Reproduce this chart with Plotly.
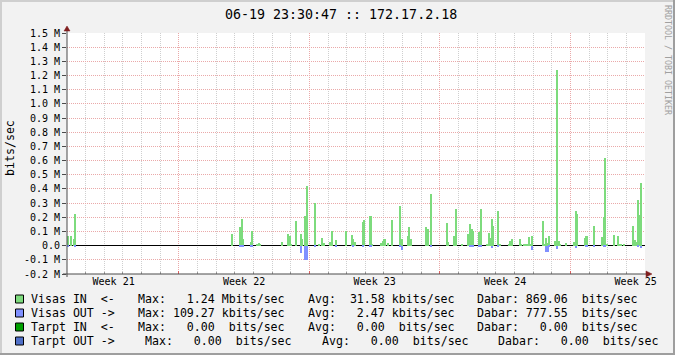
import plotly.graph_objects as go

# ---------------- data ----------------
slot_hours = 2  # one RRD row = 2 hours, start of graph = slot 0
visas_in_slot = [0, 2, 4, 5,
                 106, 111, 112, 113, 118, 119, 122, 123, 124, 138, 142, 143, 144, 147,
                 150, 151, 153, 154, 159, 162, 164, 165, 169, 170, 173, 179, 183, 184, 185,
                 190, 191, 195, 196, 202, 203, 204, 206, 209, 214, 215, 219, 220, 221,
                 231, 232, 234, 244, 245, 249, 250, 254, 258, 259, 260, 261, 265, 266,
                 270, 271, 272, 273, 274, 277, 278, 284, 285, 286, 291, 292, 294, 295, 296,
                 297, 298, 299, 306, 307, 308, 309, 310, 314, 315, 316, 317, 321, 326, 327,
                 328, 333, 334, 339, 344, 345, 346, 347, 352, 354, 355, 356, 358, 364, 365,
                 366, 367, 368, 369]
visas_in_mbps = [0.068, 0.068, 0.047, 0.22,
                 0.08, 0.13, 0.185, 0.045, 0.023, 0.10, 0.012, 0.016, 0.01, 0.023, 0.08, 0.066, 0.01, 0.171,
                 0.08, 0.045, 0.207, 0.418, 0.30, 0.01, 0.052, 0.016, 0.023, 0.10, 0.038, 0.10, 0.073, 0.045, 0.023,
                 0.164, 0.178, 0.207, 0.01, 0.016, 0.03, 0.045, 0.016, 0.178, 0.277, 0.045, 0.066, 0.13, 0.045,
                 0.13, 0.115, 0.361, 0.157, 0.023, 0.066, 0.256, 0.01, 0.08, 0.15, 0.115, 0.10, 0.094, 0.256,
                 0.01, 0.087, 0.052, 0.185, 0.136, 0.242, 0.01, 0.01, 0.03, 0.045, 0.045, 0.01, 0.01, 0.01, 0.01,
                 0.059, 0.01, 0.066, 0.171, 0.01, 0.052, 0.016, 0.066, 0.03, 1.24, 0.03, 0.01, 0.016, 0.023, 0.242,
                 0.22, 0.052, 0.066, 0.136, 0.059, 0.20, 0.615, 0.01, 0.073, 0.066, 0.01, 0.01, 0.01, 0.136, 0.038,
                 0.023, 0.32, 0.214, 0.44]
visas_out_slot = [0, 5, 111, 112, 113, 118, 119, 150, 153, 154, 159, 173, 184, 190, 195,
                  214, 215, 234, 259, 260, 261, 265, 266, 273, 277, 299, 308, 309, 310,
                  315, 327, 334, 339, 345, 346, 367, 369]
visas_out_mbps = [-0.01, -0.01, -0.01, -0.01, -0.01, -0.01, -0.01, -0.052, -0.103, -0.103, -0.01, -0.01,
                  -0.01, -0.01, -0.01, -0.01, -0.033, -0.01, -0.01, -0.01, -0.01, -0.01, -0.01, -0.019,
                  -0.01, -0.033, -0.047, -0.047, -0.01, -0.026, -0.019, -0.01, -0.01, -0.01, -0.01,
                  -0.01, -0.019]

week_label_days = [2.5, 9.5, 16.5, 23.5, 30.5]
week_labels = ["Week 21", "Week 22", "Week 23", "Week 24", "Week 25"]
week_start_days = [6, 13, 20, 27]
total_days = 31

y_tick_vals = [1.5, 1.4, 1.3, 1.2, 1.1, 1.0, 0.9, 0.8, 0.7, 0.6, 0.5, 0.4, 0.3, 0.2, 0.1, 0.0, -0.1, -0.2]
y_tick_text = ["1.5 M", "1.4 M", "1.3 M", "1.2 M", "1.1 M", "1.0 M", "0.9 M", "0.8 M", "0.7 M",
               "0.6 M", "0.5 M", "0.4 M", "0.3 M", "0.2 M", "0.1 M", "0.0", "-0.1 M", "-0.2 M"]

title_text = "06-19 23:30:47 :: 172.17.2.18"
legend_names = ["Visas IN  <-", "Visas OUT ->", "Tarpt IN  <-", "Tarpt OUT ->"]
legend_max = ["Max:   1.24 Mbits/sec", "Max: 109.27 kbits/sec", "Max:   0.00  bits/sec", "Max:   0.00  bits/sec"]
legend_avg = ["Avg:  31.58 kbits/sec", "Avg:   2.47 kbits/sec", "Avg:   0.00  bits/sec", "Avg:   0.00  bits/sec"]
legend_cur = ["Dabar: 869.06  bits/sec", "Dabar: 777.55  bits/sec", "Dabar:   0.00  bits/sec", "Dabar:   0.00  bits/sec"]
legend_colors = ["#7ddb7d", "#8090ff", "#00a000", "#5070c8"]

# ---------------- layout geometry ----------------
W, H = 675, 355
L, R, T, B = 67, 30, 33, 81
PW, PH = W - L - R, H - T - B


def px(x):
    return (x - L) / PW


def py(y):
    return (H - B - y) / PH


MONO = "DejaVu Sans Mono"
BACK = "#f2f2f2"
GRID = "#cfcfcf"
MGRID = "#eaa9a9"
AXIS = "#4a4a4a"
ARROW = "#801f1f"

day = slot_hours / 24.0
fig = go.Figure()
fig.add_trace(go.Bar(x=[(s + 0.5) * day for s in visas_in_slot], y=visas_in_mbps, width=day,
                     marker=dict(color=legend_colors[0], line=dict(width=0)), showlegend=False))
fig.add_trace(go.Bar(x=[(s + 0.5) * day for s in visas_out_slot], y=visas_out_mbps, width=day,
                     marker=dict(color=legend_colors[1], line=dict(width=0)), showlegend=False))
fig.add_trace(go.Scatter(x=[None], y=[None], xaxis="x2", showlegend=False, hoverinfo="skip"))

minor_days = [d for d in range(1, total_days) if d not in week_start_days]

fig.update_layout(
    width=W, height=H,
    margin=dict(l=L, r=R, t=T, b=B, pad=0),
    paper_bgcolor=BACK, plot_bgcolor="#ffffff",
    barmode="overlay", bargap=0,
    font=dict(family=MONO, size=10, color="#000000"),
    xaxis=dict(range=[0, total_days], tickmode="array", tickvals=week_start_days, showticklabels=False,
               showgrid=True, gridcolor=MGRID, griddash="1px,1px", gridwidth=1,
               ticks="inside", ticklen=3, tickcolor="#e06060",
               minor=dict(tickmode="array", tickvals=minor_days, showgrid=True, gridcolor=GRID,
                          griddash="1px,1px", gridwidth=1, ticks="inside", ticklen=2, tickcolor="#999999"),
               zeroline=False, showline=False, fixedrange=True),
    xaxis2=dict(range=[0, total_days], overlaying="x", side="bottom", anchor="y",
                tickmode="array", tickvals=week_label_days, ticktext=week_labels,
                ticks="", showgrid=False, zeroline=False, showline=False,
                tickfont=dict(family=MONO, size=10, color="#000000")),
    yaxis=dict(range=[-0.2, 1.5], tickmode="array", tickvals=y_tick_vals, ticktext=y_tick_text,
               showgrid=True, gridcolor=MGRID, griddash="1px,1px", gridwidth=1,
               ticks="outside", ticklen=4, tickcolor=AXIS,
               zeroline=True, zerolinecolor="#000000", zerolinewidth=1,
               showline=False, tickfont=dict(family=MONO, size=10, color="#000000")),
)

shapes = []
# 3D frame
shapes.append(dict(type="rect", xref="paper", yref="paper", x0=px(0), x1=px(W), y0=py(0), y1=py(2),
                   fillcolor="#cfcfcf", line=dict(width=0), layer="above"))
shapes.append(dict(type="rect", xref="paper", yref="paper", x0=px(0), x1=px(2), y0=py(0), y1=py(H),
                   fillcolor="#cfcfcf", line=dict(width=0), layer="above"))
shapes.append(dict(type="rect", xref="paper", yref="paper", x0=px(0), x1=px(W), y0=py(H - 2), y1=py(H),
                   fillcolor="#9e9e9e", line=dict(width=0), layer="above"))
shapes.append(dict(type="rect", xref="paper", yref="paper", x0=px(W - 2), x1=px(W), y0=py(0), y1=py(H),
                   fillcolor="#9e9e9e", line=dict(width=0), layer="above"))
# axes
shapes.append(dict(type="line", xref="paper", yref="paper", x0=px(67), x1=px(67), y0=py(277), y1=py(29),
                   line=dict(color=AXIS, width=1), layer="above"))
shapes.append(dict(type="line", xref="paper", yref="paper", x0=px(63), x1=px(648), y0=py(274), y1=py(274),
                   line=dict(color=AXIS, width=1), layer="above"))
shapes.append(dict(type="path", xref="paper", yref="paper",
                   path="M {} {} L {} {} L {} {} Z".format(px(64), py(31), px(70), py(31), px(67), py(26)),
                   fillcolor=ARROW, line=dict(color=ARROW, width=0.5), layer="above"))
shapes.append(dict(type="path", xref="paper", yref="paper",
                   path="M {} {} L {} {} L {} {} Z".format(px(646), py(271), px(646), py(277), px(652), py(274)),
                   fillcolor=ARROW, line=dict(color=ARROW, width=0.5), layer="above"))

annotations = []
annotations.append(dict(text=title_text, xref="paper", yref="paper", x=px(341), y=py(14),
                        xanchor="center", yanchor="middle", showarrow=False,
                        font=dict(family=MONO, size=13.3, color="#000000"), borderpad=0, borderwidth=0))
annotations.append(dict(text="bits/sec", xref="paper", yref="paper", x=px(10), y=py(148), textangle=-90,
                        xanchor="center", yanchor="middle", showarrow=False,
                        font=dict(family=MONO, size=11.6, color="#000000"), borderpad=0, borderwidth=0))
annotations.append(dict(text="RRDTOOL / TOBI OETIKER", xref="paper", yref="paper", x=px(668), y=py(60),
                        textangle=90, xanchor="center", yanchor="middle", showarrow=False,
                        font=dict(family=MONO, size=8.3, color="#a0a0a0"), borderpad=0, borderwidth=0))

row_y = [299, 313, 327, 341]
col_x = [[31, 138, 308, 477], [31, 138, 308, 477], [31, 138, 308, 477], [31, 145, 322, 498]]
for i in range(4):
    yc = row_y[i]
    shapes.append(dict(type="rect", xref="paper", yref="paper", x0=px(15.5), x1=px(23.5),
                       y0=py(yc - 4), y1=py(yc + 4), fillcolor=legend_colors[i],
                       line=dict(color="#000000", width=1), layer="above"))
    for txt, xx in zip([legend_names[i], legend_max[i], legend_avg[i], legend_cur[i]], col_x[i]):
        annotations.append(dict(text=txt.replace(" ", "&#160;"), xref="paper", yref="paper", x=px(xx), y=py(yc),
                                xanchor="left", yanchor="middle", showarrow=False,
                                font=dict(family=MONO, size=11.6, color="#000000"),
                                borderpad=0, borderwidth=0))

fig.update_layout(shapes=shapes, annotations=annotations)
fig.write_html("out.html")
